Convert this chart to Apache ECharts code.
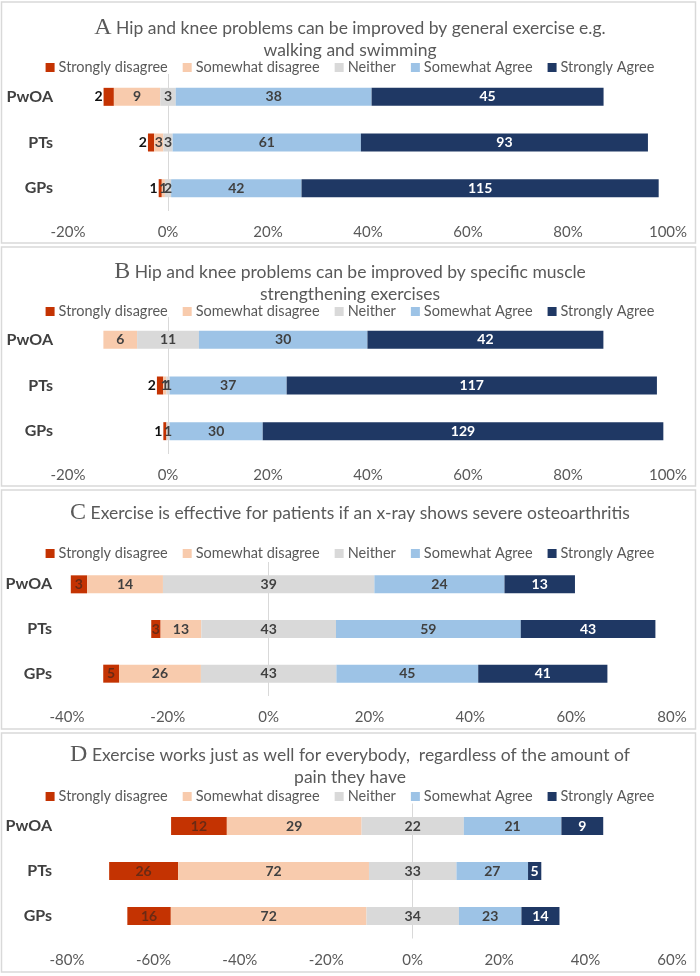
<!DOCTYPE html>
<html>
<head>
<meta charset="utf-8">
<script src="https://cdn.jsdelivr.net/npm/echarts@6/dist/echarts.min.js"></script>
<style>
html,body{margin:0;padding:0;background:#fff;}
#chart{width:700px;height:976px;}
</style>
</head>
<body>
<div id="chart"></div>
<script>
// ---- Data ----
const categories = ['PwOA', 'PTs', 'GPs'];
const responses = ['Strongly disagree', 'Somewhat disagree', 'Neither', 'Somewhat Agree', 'Strongly Agree'];
const colors = ['#C43302', '#F8CBAD', '#D9D9D9', '#9DC3E6', '#1F3864'];

// Panel titles
const titleLetters = ['A', 'B', 'C', 'D'];
const titleTexts = [
  'Hip and knee problems can be improved by general exercise e.g.\nwalking and swimming',
  'Hip and knee problems can be improved by specific muscle\nstrengthening exercises',
  'Exercise is effective for patients if an x-ray shows severe osteoarthritis',
  'Exercise works just as well for everybody,  regardless of the amount of\npain they have'
];

// Counts per response (order: PwOA, PTs, GPs)
const A_stronglyDisagree = [2, 2, 1];
const A_somewhatDisagree = [9, 3, 1];
const A_neither = [3, 3, 2];
const A_somewhatAgree = [38, 61, 42];
const A_stronglyAgree = [45, 93, 115];

const B_stronglyDisagree = [0, 2, 1];
const B_somewhatDisagree = [6, 1, 0];
const B_neither = [11, 1, 1];
const B_somewhatAgree = [30, 37, 30];
const B_stronglyAgree = [42, 117, 129];

const C_stronglyDisagree = [3, 3, 5];
const C_somewhatDisagree = [14, 13, 26];
const C_neither = [39, 43, 43];
const C_somewhatAgree = [24, 59, 45];
const C_stronglyAgree = [13, 43, 41];

const D_stronglyDisagree = [12, 26, 16];
const D_somewhatDisagree = [29, 72, 72];
const D_neither = [22, 33, 34];
const D_somewhatAgree = [21, 27, 23];
const D_stronglyAgree = [9, 5, 14];

// x-axis tick ranges [min, max, interval] (percent)
const A_ticks = [-20, 100, 20];
const B_ticks = [-20, 100, 20];
const C_ticks = [-40, 80, 20];
const D_ticks = [-80, 60, 20];

const panels = [
  {counts: [A_stronglyDisagree, A_somewhatDisagree, A_neither, A_somewhatAgree, A_stronglyAgree], ticks: A_ticks},
  {counts: [B_stronglyDisagree, B_somewhatDisagree, B_neither, B_somewhatAgree, B_stronglyAgree], ticks: B_ticks},
  {counts: [C_stronglyDisagree, C_somewhatDisagree, C_neither, C_somewhatAgree, C_stronglyAgree], ticks: C_ticks},
  {counts: [D_stronglyDisagree, D_somewhatDisagree, D_neither, D_somewhatAgree, D_stronglyAgree], ticks: D_ticks}
];

// ---- Layout (pixels) ----
const layout = [
  {box: [2, 243], titleTop: 12, legendTop: 55, gridTop: 74, gridH: 137, left: 68, right: 32, sdOutside: true},
  {box: [247, 486], titleTop: 256, legendTop: 299, gridTop: 317, gridH: 137, left: 68, right: 32, sdOutside: true},
  {box: [490, 729], titleTop: 497, legendTop: 541, gridTop: 562, gridH: 134, left: 67, right: 28, sdOutside: false},
  {box: [733, 972], titleTop: 739, legendTop: 784, gridTop: 803.5, gridH: 135, left: 67, right: 28, sdOutside: false}
];

const FONT = 'Lato, "Open Sans", sans-serif';
const SERIF = '"Liberation Serif", "DejaVu Serif", serif';

const option = {
  animation: false,
  backgroundColor: '#fff',
  title: [], legend: [], grid: [], xAxis: [], yAxis: [], series: [], graphic: []
};

panels.forEach((p, i) => {
  const L = layout[i];
  const c = p.counts;
  const totals = categories.map((_, k) => c.reduce((s, arr) => s + arr[k], 0));
  const pct = c.map(arr => arr.map((v, k) => v / totals[k] * 100));
  const offsets = categories.map((_, k) => -(pct[0][k] + pct[1][k] + pct[2][k] / 2));

  // zero line via split line colours (only the 0% line visible)
  const nTicks = Math.round((p.ticks[1] - p.ticks[0]) / p.ticks[2]) + 1;
  const zeroIdx = Math.round((0 - p.ticks[0]) / p.ticks[2]);
  const splitColors = [];
  for (let t = 0; t < nTicks; t++) splitColors.push(t === zeroIdx ? '#D9D9D9' : 'rgba(0,0,0,0)');

  option.graphic.push({
    type: 'rect', silent: true,
    shape: {x: 1.5, y: L.box[0], width: 694, height: L.box[1] - L.box[0]},
    style: {fill: 'none', stroke: '#D9D9D9', lineWidth: 1.5}
  });

  option.title.push({
    text: '{l|' + titleLetters[i] + '} ' + titleTexts[i],
    left: 'center', top: L.titleTop,
    textStyle: {
      fontFamily: FONT, fontSize: 17.5, fontWeight: 'normal', color: '#595959', lineHeight: 22,
      rich: {l: {fontFamily: SERIF, fontSize: 24, color: '#595959', lineHeight: 22}}
    }
  });

  option.legend.push({
    data: responses, top: L.legendTop, left: 'center',
    icon: 'rect', itemWidth: 9, itemHeight: 9, itemGap: 15, selectedMode: false,
    textStyle: {fontFamily: FONT, fontSize: 14.5, color: '#595959', padding: [0, 0, 0, -1]}
  });

  option.grid.push({left: L.left, right: L.right, top: L.gridTop, height: L.gridH, containLabel: false});

  option.xAxis.push({
    type: 'value', gridIndex: i, min: p.ticks[0], max: p.ticks[1], interval: p.ticks[2],
    axisLine: {show: false}, axisTick: {show: false},
    splitLine: {show: true, lineStyle: {color: splitColors, width: 1, type: 'solid'}},
    axisLabel: {formatter: '{value}%', fontFamily: FONT, fontSize: 15, color: '#595959', margin: 14}
  });
  option.yAxis.push({
    type: 'category', gridIndex: i, data: categories, inverse: true,
    axisLine: {show: false}, axisTick: {show: false}, splitLine: {show: false},
    axisLabel: {fontFamily: FONT, fontSize: 16, fontWeight: 'bold', color: '#404040', margin: 15}
  });

  const stackId = 'panel' + i;
  option.series.push({
    name: 'offset' + i, type: 'bar', xAxisIndex: i, yAxisIndex: i, stack: stackId, stackStrategy: 'all',
    data: offsets, barWidth: 18, silent: true,
    itemStyle: {color: 'rgba(0,0,0,0)'}, label: {show: false}
  });

  responses.forEach((name, r) => {
    let label = {
      show: true, position: 'inside', fontFamily: FONT, fontSize: 14, fontWeight: 'bold',
      color: r === 4 ? '#ffffff' : '#404040',
      formatter: (prm) => (c[r][prm.dataIndex] ? String(c[r][prm.dataIndex]) : '')
    };
    if (r === 0) {
      if (L.sdOutside) {
        label.position = 'left'; label.distance = 1; label.color = '#111111';
      } else {
        label.color = '#6A2A14';
      }
    }
    option.series.push({
      name: name, type: 'bar', xAxisIndex: i, yAxisIndex: i, stack: stackId, stackStrategy: 'all',
      data: pct[r], barWidth: 18,
      itemStyle: {color: colors[r]},
      label: label
    });
  });
});

const chart = echarts.init(document.getElementById('chart'), null, {renderer: 'canvas'});
chart.setOption(option);
</script>
</body>
</html>
